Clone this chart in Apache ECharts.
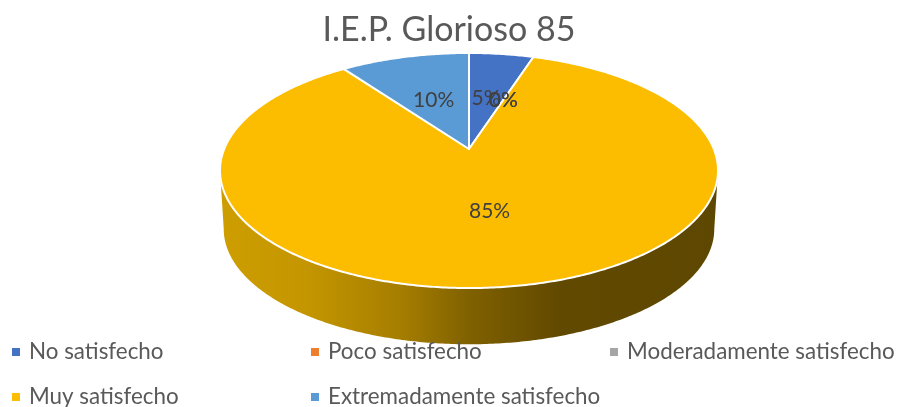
<!DOCTYPE html>
<html>
<head>
<meta charset="utf-8">
<style>html,body{margin:0;padding:0;background:#fff}#c{width:898px;height:407px}</style>
<script src="https://cdn.jsdelivr.net/npm/echarts@6/dist/echarts.min.js"></script>
</head>
<body>
<div id="c"></div>
<script>
const titleText = 'I.E.P. Glorioso 85';
const categories = ['No satisfecho', 'Poco satisfecho', 'Moderadamente satisfecho', 'Muy satisfecho', 'Extremadamente satisfecho'];
const values = [5, 0, 0, 85, 10];
const colors = ['#4472C4', '#ED7D31', '#A5A5A5', '#FCBD00', '#5B9BD5'];
const total = values.reduce((a, b) => a + b, 0);

// perspective projection of the pie disk
const CX = 469, CY = 149, A = 244.8, B = 113.6, K = 0.183;
const DEPTH = 59, LOWER_X = 0.985, LOWER_Y = 0.98;
function project(theta, f) {
  const X = Math.sin(theta) * f, Y = Math.cos(theta) * f, w = 1 + K * Y;
  return [CX + A * X / w, CY - B * Y / w];
}
function lower(theta) {
  const p = project(theta, 1);
  return [CX + (p[0] - CX) * LOWER_X, CY + (p[1] - CY) * LOWER_Y + DEPTH];
}
function startOf(i) {
  let s = 0;
  for (let j = 0; j < i; j++) s += values[j];
  return s / total * Math.PI * 2;
}
const sideFill = new echarts.graphic.LinearGradient(220, 0, 718, 0, [
  { offset: 0, color: '#CE9E00' },
  { offset: 0.18, color: '#C39500' },
  { offset: 0.36, color: '#A67E00' },
  { offset: 0.5, color: '#806100' },
  { offset: 0.68, color: '#614900' },
  { offset: 1, color: '#5E4700' }
], true);
const FRONT_START = Math.PI / 2 + Math.asin(K), FRONT_END = 3 * Math.PI / 2 - Math.asin(K);

function sliceRenderer(i) {
  return function (params, api) {
    const v = api.value(0);
    const children = [];
    if (v > 0) {
      const a0 = startOf(i), a1 = a0 + v / total * Math.PI * 2;
      const s0 = Math.max(a0, FRONT_START), s1 = Math.min(a1, FRONT_END);
      if (s1 > s0) {
        const up = [], down = [];
        const n = Math.ceil((s1 - s0) / 0.01);
        for (let t = 0; t <= n; t++) {
          const th = s0 + (s1 - s0) * t / n;
          up.push(project(th, 1));
          down.unshift(lower(th));
        }
        children.push({ type: 'polygon', shape: { points: up.concat(down) }, style: { fill: sideFill, stroke: 'none' } });
      }
      const pts = [[CX, CY]];
      const m = Math.ceil((a1 - a0) / 0.01);
      for (let t = 0; t <= m; t++) pts.push(project(a0 + (a1 - a0) * t / m, 1));
      children.push({ type: 'polygon', shape: { points: pts }, z2: 5, style: { fill: colors[i], stroke: '#FFFFFF', lineWidth: 2, lineJoin: 'round' } });
    }
    return { type: 'group', children: children };
  };
}
function labelRenderer(params, api) {
  const i = params.dataIndex, v = api.value(0);
  const mid = startOf(i) + v / total * Math.PI;
  const p = project(mid, 0.5);
  return {
    type: 'text', x: p[0] - 0.5, y: p[1] + 1,
    style: { text: v + '%', fill: '#404040', font: '21px Lato', align: 'center', verticalAlign: 'middle' }
  };
}

const series = categories.map((name, i) => ({
  type: 'custom', name: name, coordinateSystem: 'none', silent: true, animation: false, z: 2,
  itemStyle: { color: colors[i] }, data: [[values[i]]], renderItem: sliceRenderer(i)
}));
series.push({
  type: 'custom', name: 'etiquetas', coordinateSystem: 'none', silent: true, animation: false, z: 10,
  data: values.map(v => [v]), renderItem: labelRenderer
});

function legendItem(left, top, name) {
  return {
    left: left, top: top, padding: 0, itemWidth: 8, itemHeight: 8,
    icon: 'rect', selectedMode: false, data: [name],
    textStyle: { color: '#595959', fontFamily: 'Lato', fontSize: 22.4, padding: [0, 0, 0, 4] }
  };
}
const chart = echarts.init(document.getElementById('c'), null, { renderer: 'canvas' });
chart.setOption({
  animation: false,
  title: { text: titleText, left: 'center', top: 13, padding: 0,
    textStyle: { color: '#595959', fontFamily: 'Lato', fontSize: 34, fontWeight: 'normal' } },
  legend: [
    legendItem(12, 341, categories[0]),
    legendItem(311, 341, categories[1]),
    legendItem(610, 341, categories[2]),
    legendItem(12, 386, categories[3]),
    legendItem(311, 386, categories[4])
  ],
  series: series
});
</script>
</body>
</html>
